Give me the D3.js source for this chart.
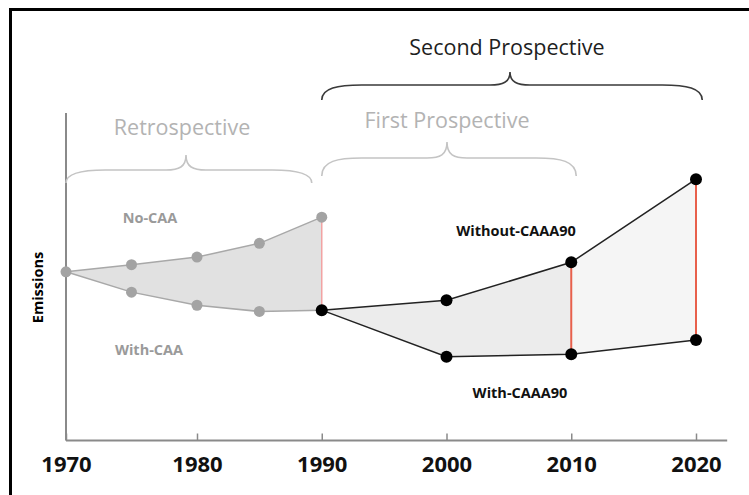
<!DOCTYPE html>
<html><head><meta charset="utf-8">
<script src="https://cdn.jsdelivr.net/npm/d3@7"></script>
<style>html,body{margin:0;padding:0;background:#fff;} svg{display:block;}</style>
</head><body><svg id="c" width="749" height="495"></svg>
<script>
// ---- data ----
const retroYears = [1970, 1975, 1980, 1985, 1990];
const noCAA      = [51.5, 53.7, 56.0, 60.2, 68.2];
const withCAA    = [51.5, 45.3, 41.3, 39.4, 39.8];
const prospYears = [1990, 2000, 2010, 2020];
const withoutCAAA90 = [39.8, 42.8, 54.4, 79.8];
const withCAAA90    = [39.8, 25.6, 26.3, 30.7];
const tickYears = [1970, 1980, 1990, 2000, 2010, 2020];
const gapYearsRetro = [1990];
const gapYearsProsp = [2010, 2020];
const periods = ["Retrospective", "First Prospective", "Second Prospective"];
const periodFrom = [1970, 1990, 1990];
const periodTo   = [1989.2, 2010.4, 2020.5];
const seriesLabels = ["No-CAA", "With-CAA", "Without-CAAA90", "With-CAAA90"];
const yLabel = "Emissions";

// ---- setup ----
const svg = d3.select("#c");
const x = d3.scaleLinear().domain([1970, 1980, 2020]).range([66, 197, 696]);
const y = d3.scaleLinear().domain([0, 100]).range([440.5, 113]);
const FONT = "'Open Sans', sans-serif";

// frame
svg.append("rect").attr("x", 10.5).attr("y", 9.5).attr("width", 800).attr("height", 600)
  .attr("fill", "none").attr("stroke", "#000").attr("stroke-width", 3);

const retro = retroYears.map((yr, i) => ({yr, hi: noCAA[i], lo: withCAA[i]}));
const prosp = prospYears.map((yr, i) => ({yr, hi: withoutCAAA90[i], lo: withCAAA90[i]}));

const area = d3.area().x(d => x(d.yr)).y0(d => y(d.lo)).y1(d => y(d.hi));
svg.append("path").datum(retro).attr("d", area).attr("fill", "#e1e1e1");
svg.append("path").datum(prosp.filter(d => d.yr <= 2010)).attr("d", area).attr("fill", "#ececec");
svg.append("path").datum(prosp.filter(d => d.yr >= 2010)).attr("d", area).attr("fill", "#f5f5f5");

// axes
svg.append("line").attr("x1", x(1970)).attr("x2", x(1970)).attr("y1", y(0)).attr("y2", y(100))
  .attr("stroke", "#8a8a8a").attr("stroke-width", 2);
const ax = svg.append("g").attr("transform", `translate(0,${y(0)})`)
  .call(d3.axisBottom(x).tickValues(tickYears).tickFormat(d3.format("d")).tickSize(-7).tickPadding(16));
ax.select(".domain").remove();
ax.selectAll(".tick line").attr("stroke", "#8a8a8a").attr("stroke-width", 1.5);
ax.selectAll(".tick text").attr("font-family", FONT).attr("font-weight", "bold")
  .attr("font-size", 22).attr("fill", "#111");
svg.append("line").attr("x1", x(1970)).attr("x2", x(2022.5)).attr("y1", y(0)).attr("y2", y(0))
  .attr("stroke", "#8a8a8a").attr("stroke-width", 2);

// gap lines
const rById = Object.fromEntries(retro.map(d => [d.yr, d]));
const pById = Object.fromEntries(prosp.map(d => [d.yr, d]));
svg.selectAll(".gapR").data(gapYearsRetro.map(yr => rById[yr])).join("line")
  .attr("x1", d => x(d.yr)).attr("x2", d => x(d.yr)).attr("y1", d => y(d.hi)).attr("y2", d => y(d.lo))
  .attr("stroke", "#f2a3a3").attr("stroke-width", 1.5);
svg.selectAll(".gapP").data(gapYearsProsp.map(yr => pById[yr])).join("line")
  .attr("x1", d => x(d.yr)).attr("x2", d => x(d.yr)).attr("y1", d => y(d.hi)).attr("y2", d => y(d.lo))
  .attr("stroke", "#e8604c").attr("stroke-width", 2);

// lines
const lineHi = d3.line().x(d => x(d.yr)).y(d => y(d.hi));
const lineLo = d3.line().x(d => x(d.yr)).y(d => y(d.lo));
svg.append("path").datum(retro).attr("d", lineHi).attr("fill", "none").attr("stroke", "#a8a8a8").attr("stroke-width", 1.5);
svg.append("path").datum(retro).attr("d", lineLo).attr("fill", "none").attr("stroke", "#a8a8a8").attr("stroke-width", 1.5);
svg.append("path").datum(prosp).attr("d", lineHi).attr("fill", "none").attr("stroke", "#222").attr("stroke-width", 1.5);
svg.append("path").datum(prosp).attr("d", lineLo).attr("fill", "none").attr("stroke", "#222").attr("stroke-width", 1.5);

// points
const retroPts = [];
retro.forEach(d => { retroPts.push({yr: d.yr, v: d.hi}); if (d.lo !== d.hi) retroPts.push({yr: d.yr, v: d.lo}); });
svg.selectAll(".rp").data(retroPts).join("circle")
  .attr("cx", d => x(d.yr)).attr("cy", d => y(d.v)).attr("r", 5.5).attr("fill", "#a3a3a3");
const prospPts = [];
prosp.forEach(d => { prospPts.push({yr: d.yr, v: d.hi}); if (d.lo !== d.hi) prospPts.push({yr: d.yr, v: d.lo}); });
svg.selectAll(".pp").data(prospPts).join("circle")
  .attr("cx", d => x(d.yr)).attr("cy", d => y(d.v)).attr("r", 6).attr("fill", "#000");

// braces
function brace(x0, x1, xt, yEnd, yLine, yTip) {
  const e = Math.min(40, (x1 - x0) * 0.16), t = 20;
  return `M${x0},${yEnd} C${x0},${yLine + 3} ${x0 + e * 0.4},${yLine} ${x0 + e},${yLine}` +
    ` L${xt - t},${yLine} C${xt - t * 0.35},${yLine} ${xt},${yLine - 3} ${xt},${yTip}` +
    ` C${xt},${yLine - 3} ${xt + t * 0.35},${yLine} ${xt + t},${yLine}` +
    ` L${x1 - e},${yLine} C${x1 - e * 0.4},${yLine} ${x1},${yLine + 3} ${x1},${yEnd}`;
}
const braceStyle = [
  {xt: 186, yEnd: 183, yLine: 170, yTip: 155, col: "#c4c4c4", txt: "#b3b3b3", tx: 182, ty: 135},
  {xt: 447, yEnd: 176, yLine: 158, yTip: 142, col: "#c4c4c4", txt: "#b3b3b3", tx: 447, ty: 128},
  {xt: 510, yEnd: 100, yLine: 85,  yTip: 72,  col: "#3a3a3a", txt: "#1e1e1e", tx: 507, ty: 55}
];
periods.forEach((p, i) => {
  const s = braceStyle[i];
  svg.append("path").attr("d", brace(x(periodFrom[i]), x(periodTo[i]), s.xt, s.yEnd, s.yLine, s.yTip))
    .attr("fill", "none").attr("stroke", s.col).attr("stroke-width", 1.6);
  svg.append("text").attr("x", s.tx).attr("y", s.ty).attr("text-anchor", "middle")
    .attr("font-family", FONT).attr("font-size", 21.5).attr("fill", s.txt).text(p);
});

// series labels
const labelPos = [
  {x: 150, y: 223, c: "#9a9a9a"},
  {x: 149, y: 355, c: "#9a9a9a"},
  {x: 516, y: 236, c: "#111"},
  {x: 520, y: 398, c: "#111"}
];
seriesLabels.forEach((l, i) => {
  svg.append("text").attr("x", labelPos[i].x).attr("y", labelPos[i].y).attr("text-anchor", "middle")
    .attr("font-family", FONT).attr("font-weight", "bold").attr("font-size", 14.5)
    .attr("fill", labelPos[i].c).text(l);
});

svg.append("text").attr("transform", "translate(43,287.5) rotate(-90)").attr("text-anchor", "middle")
  .attr("font-family", FONT).attr("font-weight", "bold").attr("font-size", 14.5).attr("fill", "#000").text(yLabel);
</script></body></html>
